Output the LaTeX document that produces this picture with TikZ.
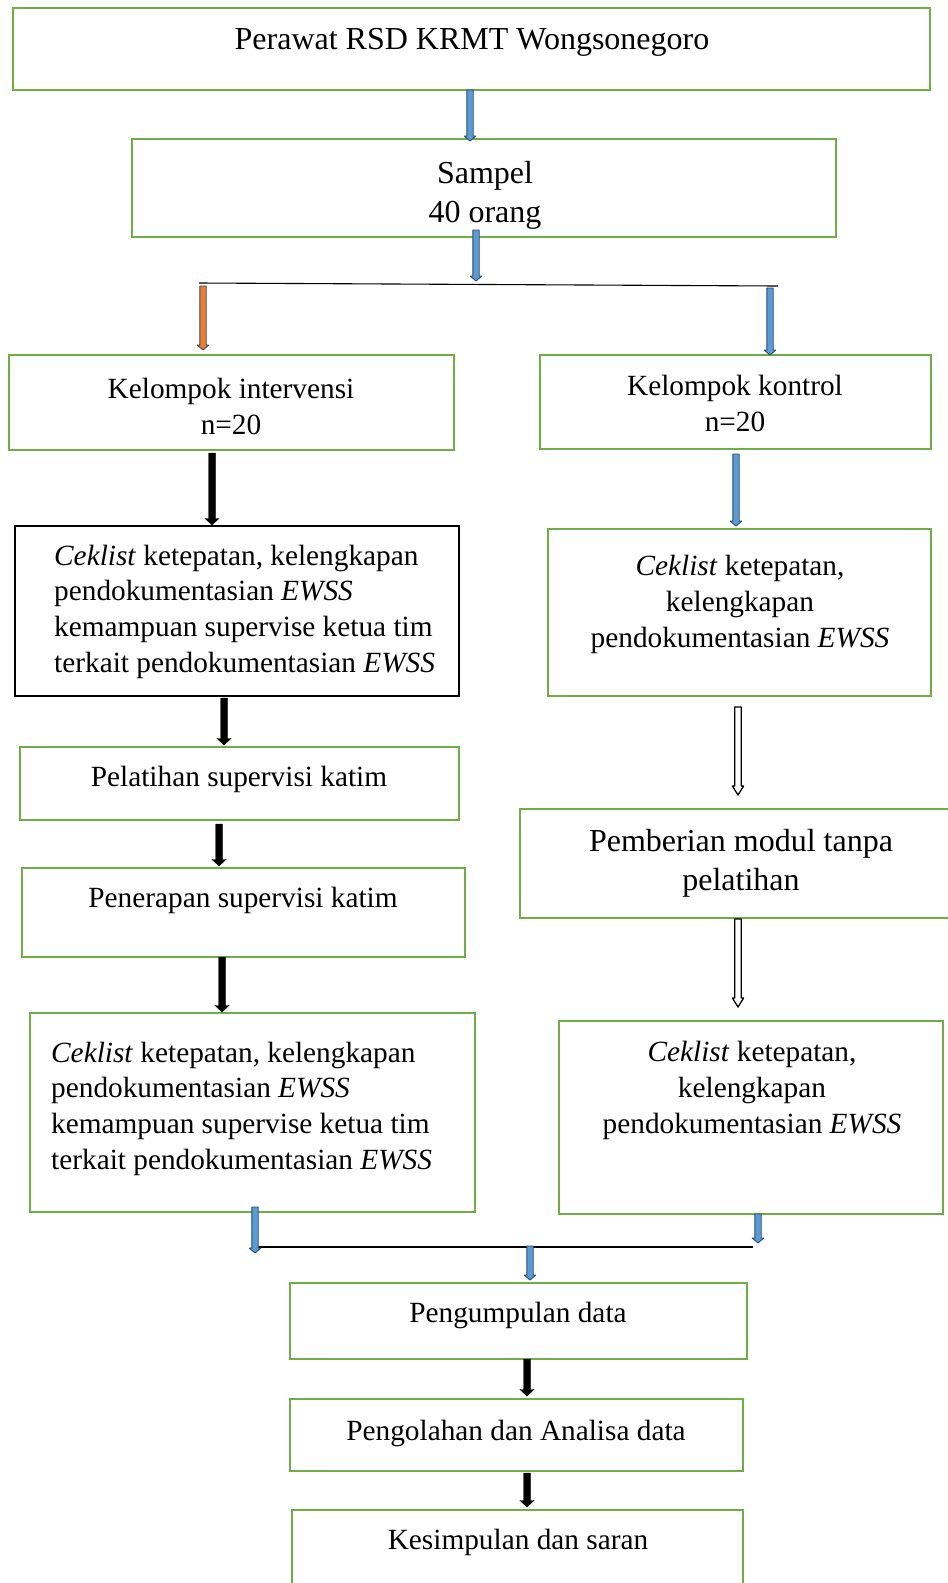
\documentclass[tikz,border=0pt]{standalone}
\usepackage{fontspec}
\setmainfont{Liberation Serif}
\usetikzlibrary{calc,fit}
\definecolor{boxgreen}{HTML}{70AD47}
\definecolor{arrowblue}{HTML}{5B9BD5}
\definecolor{arrowedge}{HTML}{2B4A6B}
\definecolor{arroworange}{HTML}{ED7D31}

% block arrow from #2 straight down to #3: shaft half width #4, head half width #5, head length #6
\newcommand\blockarrow[6][]{%
  \path[#1] let \p1=(#2), \p2=(#3) in
    (\x1-#4,\y1) -- (\x1+#4,\y1) -- (\x1+#4,\y2+#6) -- (\x1+#5,\y2+#6) -- (\x1,\y2)
    -- (\x1-#5,\y2+#6) -- (\x1-#4,\y2+#6) -- cycle;}
\newcommand\bluearrow[2]{\blockarrow[bluearr]{#1}{#2}{3.2pt}{5.8pt}{5pt}}
\newcommand\orangearrow[2]{\blockarrow[orangearr]{#1}{#2}{3.2pt}{5.8pt}{5pt}}
\newcommand\blackarrow[2]{\blockarrow[blackarr]{#1}{#2}{3.3pt}{7pt}{6.5pt}}
\newcommand\hollowarrow[2]{\blockarrow[hollowarr]{#1}{#2}{3.3pt}{5.6pt}{9pt}}

\begin{document}
\begin{tikzpicture}[x=1pt,y=-1pt,
  flowbox/.style={draw=boxgreen, line width=2.6pt, inner sep=0pt},
  blackbox/.style={draw=black, line width=1.8pt, inner sep=0pt},
  txt/.style={font=\fontsize{29.3}{35.7}\selectfont, inner sep=0pt, anchor=base, align=center},
  bigtxt/.style={font=\fontsize{32}{38.5}\selectfont, inner sep=0pt, anchor=base, align=center},
  lefttxt/.style={font=\fontsize{29.3}{35.6}\selectfont, inner sep=0pt, anchor=base west, align=left},
  bluearr/.style={fill=arrowblue, draw=arrowedge, line width=0.9pt, line join=round},
  orangearr/.style={fill=arroworange, draw=arrowedge, line width=0.9pt, line join=round},
  blackarr/.style={fill=black, draw=black, line width=0.4pt},
  hollowarr/.style={fill=white, draw=black, line width=1.3pt, line join=round},
  branch/.style={draw=black, line width=1.1pt}]
\useasboundingbox (0,0) rectangle (948,1583);

% boxes
\node[flowbox, fit={(13,8) (930,90)}] (perawat) {};
\node[flowbox, fit={(132,139) (836,237)}] (sampel) {};
\node[flowbox, fit={(9,355) (454,450)}] (intv) {};
\node[flowbox, fit={(540,355) (931,449)}] (kontrol) {};
\node[blackbox, fit={(15,526) (459,696)}] (preL) {};
\node[flowbox, fit={(548,529) (931,696)}] (preR) {};
\node[flowbox, fit={(20,747) (459,820)}] (pelatihan) {};
\node[flowbox, fit={(520,809) (956,918)}] (modul) {};
\node[flowbox, fit={(22,868) (465,957)}] (penerapan) {};
\node[flowbox, fit={(30,1013) (475,1212)}] (postL) {};
\node[flowbox, fit={(559,1021) (943,1214)}] (postR) {};
\node[flowbox, fit={(290,1283) (747,1359)}] (kumpul) {};
\node[flowbox, fit={(290,1399) (743,1471)}] (olah) {};
\node[flowbox, fit={(292,1510) (743,1600)}] (simpul) {};

% texts (anchored at the baseline of the last line)
\node[bigtxt] (tperawat) at (472,49) {Perawat RSD KRMT Wongsonegoro};
\node[bigtxt] (tsampel) at (485,222) {Sampel\\40 orang};
\node[txt] (tintv) at (231,434) {Kelompok intervensi\\n=20};
\node[txt] (tkontrol) at (735,431) {Kelompok kontrol\\n=20};
\node[lefttxt] (tpreL) at (54,672) {\textit{Ceklist} ketepatan, kelengkapan\\pendokumentasian \textit{EWSS}\\kemampuan supervise ketua tim\\terkait pendokumentasian \textit{EWSS}};
\node[txt] (tpreR) at (740,647) {\textit{Ceklist} ketepatan,\\kelengkapan\\pendokumentasian \textit{EWSS}};
\node[txt] (tpelatihan) at (239,786) {Pelatihan supervisi katim};
\node[bigtxt, font=\fontsize{32}{39}\selectfont] (tmodul) at (741,890) {Pemberian modul tanpa\\pelatihan};
\node[txt] (tpenerapan) at (243,907) {Penerapan supervisi katim};
\node[lefttxt] (tpostL) at (51,1169) {\textit{Ceklist} ketepatan, kelengkapan\\pendokumentasian \textit{EWSS}\\kemampuan supervise ketua tim\\terkait pendokumentasian \textit{EWSS}};
\node[txt] (tpostR) at (752,1133) {\textit{Ceklist} ketepatan,\\kelengkapan\\pendokumentasian \textit{EWSS}};
\node[txt] (tkumpul) at (518,1322) {Pengumpulan data};
\node[txt] (tolah) at (516,1440) {Pengolahan dan Analisa data};
\node[txt] (tsimpul) at (518,1549) {Kesimpulan dan saran};

% arrow end points and branch lines
\coordinate (a1s) at (470,90);   \coordinate (a1e) at (470,141);
\coordinate (a2s) at (476,230);  \coordinate (a2e) at (476,281);
\coordinate (splitL) at (199,283); \coordinate (splitR) at (778,286);
\coordinate (a3s) at (203,286);  \coordinate (a3e) at (203,350);
\coordinate (a4s) at (770,288);  \coordinate (a4e) at (770,355);
\coordinate (a5s) at (212,453);  \coordinate (a5e) at (212,525);
\coordinate (a6s) at (736,454);  \coordinate (a6e) at (736,526);
\coordinate (a7s) at (224,698);  \coordinate (a7e) at (224,745);
\coordinate (a8s) at (738,707);  \coordinate (a8e) at (738,795);
\coordinate (a9s) at (219,824);  \coordinate (a9e) at (219,866);
\coordinate (a10s) at (222,957); \coordinate (a10e) at (222,1012);
\coordinate (a11s) at (738,919); \coordinate (a11e) at (738,1007);
\coordinate (a12s) at (255,1207); \coordinate (a12e) at (255,1253);
\coordinate (a13s) at (758,1214); \coordinate (a13e) at (758,1243);
\coordinate (joinL) at (255,1247); \coordinate (joinR) at (753,1247);
\coordinate (a14s) at (530,1246); \coordinate (a14e) at (530,1280);
\coordinate (a15s) at (527,1359); \coordinate (a15e) at (527,1396);
\coordinate (a16s) at (527,1473); \coordinate (a16e) at (527,1507);

\draw[branch] (splitL) -- (splitR);
\draw[branch] (joinL) -- (joinR);

\bluearrow{a1s}{a1e}
\bluearrow{a2s}{a2e}
\orangearrow{a3s}{a3e}
\bluearrow{a4s}{a4e}
\blackarrow{a5s}{a5e}
\bluearrow{a6s}{a6e}
\blackarrow{a7s}{a7e}
\hollowarrow{a8s}{a8e}
\blackarrow{a9s}{a9e}
\blackarrow{a10s}{a10e}
\hollowarrow{a11s}{a11e}
\bluearrow{a12s}{a12e}
\bluearrow{a13s}{a13e}
\bluearrow{a14s}{a14e}
\blackarrow{a15s}{a15e}
\blackarrow{a16s}{a16e}
\end{tikzpicture}
\end{document}
